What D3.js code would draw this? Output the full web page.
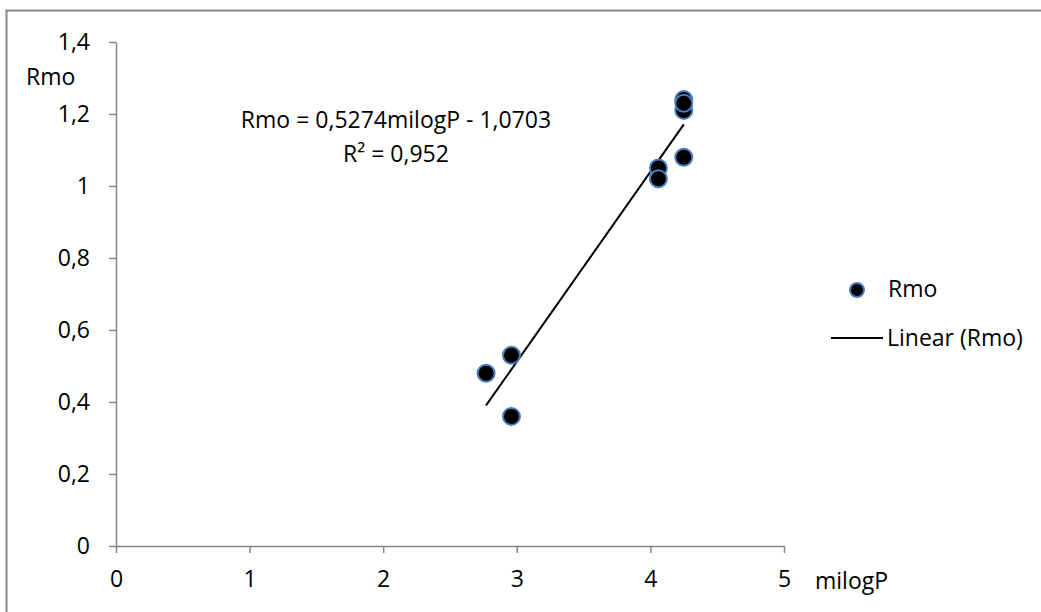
<!DOCTYPE html>
<html>
<head>
<meta charset="utf-8">
<script src="https://cdn.jsdelivr.net/npm/d3@7"></script>
<style>
  body { margin: 0; background: #fff; }
  svg text { font-family: "Open Sans", "Liberation Sans", sans-serif; fill: #000; }
</style>
</head>
<body>
<svg width="1041" height="612"></svg>
<script>
// data
var milogP = [2.77, 2.96, 2.96, 4.06, 4.06, 4.25, 4.25, 4.25, 4.25];
var rmo    = [0.48, 0.53, 0.36, 1.05, 1.02, 1.08, 1.21, 1.24, 1.23];
var xTicks = [0, 1, 2, 3, 4, 5];
var yTicks = [0, 0.2, 0.4, 0.6, 0.8, 1, 1.2, 1.4];
var slope = 0.5274, intercept = -1.0703;
var eqLines = ["Rmo = 0,5274milogP - 1,0703", "R² = 0,952"];

var svg = d3.select("svg");
var axisColor = "#868686";
var fs = "23px";
var fmt = function(d){ return String(d).replace(".", ","); };

// outer chart border
svg.append("rect")
  .attr("x", 6.5).attr("y", 10.5)
  .attr("width", 1100).attr("height", 700)
  .attr("fill", "none")
  .attr("stroke", axisColor)
  .attr("stroke-width", 2);

var x = d3.scaleLinear().domain([0, 5]).range([116, 784]);
var y = d3.scaleLinear().domain([0, 1.4]).range([546, 42]);

var g = svg.append("g");

// y axis
var yAxis = g.append("g")
  .attr("transform", "translate(" + x(0) + ",0)")
  .call(d3.axisLeft(y).tickValues(yTicks).tickFormat(fmt).tickSizeInner(7).tickSizeOuter(0).tickPadding(19));
// x axis
var xAxis = g.append("g")
  .attr("transform", "translate(0," + y(0) + ")")
  .call(d3.axisBottom(x).tickValues(xTicks).tickFormat(fmt).tickSizeInner(7).tickSizeOuter(0).tickPadding(18));

[yAxis, xAxis].forEach(function(a){
  a.select(".domain").attr("stroke", axisColor).attr("stroke-width", 1.5);
  a.selectAll(".tick line").attr("stroke", axisColor).attr("stroke-width", 1.5);
  a.selectAll(".tick text").style("font-size", fs).attr("fill", "#000");
});

// axis titles
svg.append("text").attr("x", 26).attr("y", 85).style("font-size", fs).text("Rmo");
svg.append("text").attr("x", 815).attr("y", 589).style("font-size", fs).text("milogP");

// trend line over the data range
var xMin = d3.min(milogP), xMax = d3.max(milogP);
g.append("line")
  .attr("x1", x(xMin)).attr("y1", y(slope * xMin + intercept))
  .attr("x2", x(xMax)).attr("y2", y(slope * xMax + intercept))
  .attr("stroke", "#000").attr("stroke-width", 2);

// points
g.selectAll(".pt")
  .data(milogP.map(function(d, i){ return { x: d, y: rmo[i] }; }))
  .enter().append("circle")
  .attr("class", "pt")
  .attr("cx", function(d){ return x(d.x); })
  .attr("cy", function(d){ return y(d.y); })
  .attr("r", 8.5)
  .attr("fill", "#000")
  .attr("stroke", "#4a7ebb")
  .attr("stroke-width", 2);

// regression label
svg.selectAll(".eq")
  .data(eqLines)
  .enter().append("text")
  .attr("class", "eq")
  .attr("x", 396)
  .attr("y", function(d, i){ return 128 + i * 34; })
  .attr("text-anchor", "middle")
  .style("font-size", fs)
  .text(function(d){ return d; });

// legend
svg.append("circle").attr("cx", 857).attr("cy", 290).attr("r", 7)
  .attr("fill", "#000").attr("stroke", "#4a7ebb").attr("stroke-width", 2);
svg.append("text").attr("x", 888).attr("y", 297).style("font-size", fs).text("Rmo");
svg.append("line").attr("x1", 831).attr("x2", 883).attr("y1", 338).attr("y2", 338)
  .attr("stroke", "#000").attr("stroke-width", 2);
svg.append("text").attr("x", 887).attr("y", 346).style("font-size", fs).text("Linear (Rmo)");
</script>
</body>
</html>
